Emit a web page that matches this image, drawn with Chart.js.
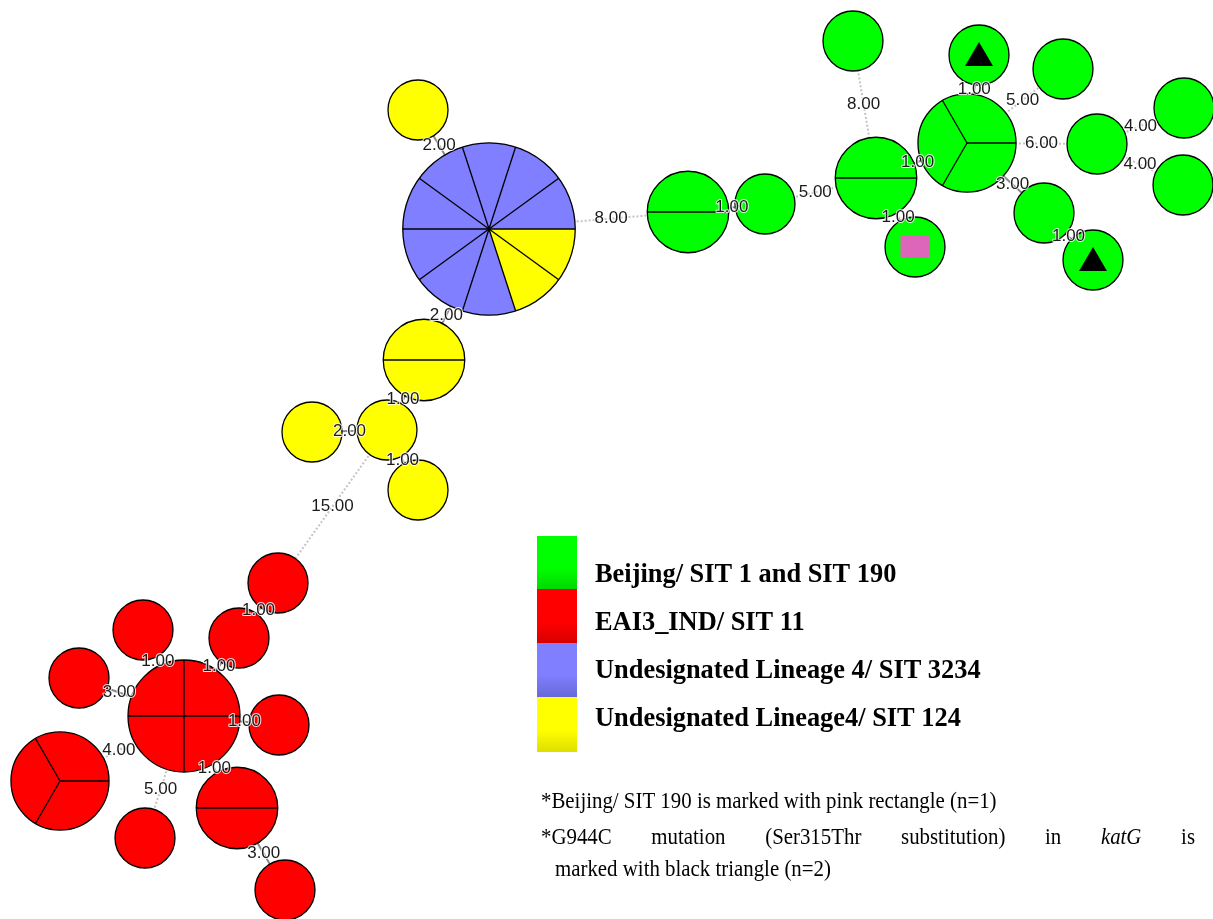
<!DOCTYPE html>
<html>
<head>
<meta charset="utf-8">
<script src="https://cdn.jsdelivr.net/npm/chart.js@4"></script>
<style>
  html, body { margin: 0; padding: 0; background: #fff; }
  #wrap { width: 1213px; height: 919px; }
</style>
</head>
<body>
<div id="wrap"><canvas id="mst" width="1213" height="919"></canvas></div>
<script>
// Lineages (legend order) and colours
const lineages = [
  "Beijing/ SIT 1 and SIT 190",
  "EAI3_IND/ SIT 11",
  "Undesignated Lineage 4/ SIT 3234",
  "Undesignated Lineage4/ SIT 124"
];
const lineageColors = ["#00ff00", "#ff0000", "#7f7fff", "#ffff00"];

// Nodes: layout coordinates and isolate counts per lineage
const nodeX = [489, 418, 424, 387, 312, 418,
  688, 765, 876, 967, 853, 979, 1063, 1097, 1184, 1183, 1044, 1093, 915,
  278, 239, 184, 143, 79, 279, 60, 237, 145, 285];
const nodeY = [229, 110, 360, 430, 432, 490,
  212, 204, 178, 143, 41, 55, 69, 144, 108, 185, 213, 260, 247,
  583, 638, 716, 630, 678, 725, 781, 808, 838, 890];
const nodeCounts = [
  [0, 0, 8, 2], [0, 0, 0, 1], [0, 0, 0, 2], [0, 0, 0, 1], [0, 0, 0, 1], [0, 0, 0, 1],
  [2, 0, 0, 0], [1, 0, 0, 0], [2, 0, 0, 0], [3, 0, 0, 0], [1, 0, 0, 0], [1, 0, 0, 0],
  [1, 0, 0, 0], [1, 0, 0, 0], [1, 0, 0, 0], [1, 0, 0, 0], [1, 0, 0, 0], [1, 0, 0, 0], [1, 0, 0, 0],
  [0, 1, 0, 0], [0, 1, 0, 0], [0, 4, 0, 0], [0, 1, 0, 0], [0, 1, 0, 0], [0, 1, 0, 0],
  [0, 3, 0, 0], [0, 2, 0, 0], [0, 1, 0, 0], [0, 1, 0, 0]
];
// "" none, "tri" katG G944C, "rect" SIT 190
const nodeMarks = ["", "", "", "", "", "",
  "", "", "", "", "", "tri", "", "", "", "", "", "tri", "rect",
  "", "", "", "", "", "", "", "", "", ""];

// Edges of the minimum spanning tree
const edgeFrom = [0, 6, 7, 8, 8, 8, 9, 9, 9, 13, 13, 9, 16, 0, 0, 2, 3, 3, 3, 19, 20, 22, 23, 24, 25, 27, 26, 26];
const edgeTo = [6, 7, 8, 10, 9, 18, 11, 12, 13, 14, 15, 16, 17, 1, 2, 3, 4, 5, 19, 20, 21, 21, 21, 21, 21, 21, 21, 28];
const edgeWeight = [8, 1, 5, 8, 1, 1, 1, 5, 6, 4, 4, 3, 1, 2, 2, 1, 2, 1, 15, 1, 1, 1, 3, 1, 4, 5, 1, 3];

const note1 = "*Beijing/ SIT 190 is marked with pink rectangle (n=1)";
const note2 = ["*G944C", "mutation", "(Ser315Thr", "substitution)", "in", "katG", "is"];
const note3 = "marked with black triangle (n=2)";

function nodeTotal(i) { return nodeCounts[i].reduce((a, b) => a + b, 0); }
function nodeRadius(i) { return 4 + 26 * Math.sqrt(nodeTotal(i)); }

const sliceOrder = [3, 2, 1, 0];
const SERIF = "'Liberation Serif', 'Times New Roman', serif";
const SQUEEZE = 0.907;

const netPlugin = {
  id: "mstNetwork",
  beforeDatasetsDraw(chart) {
    const ctx = chart.ctx;
    const pts = chart.getDatasetMeta(0).data;
    edgeFrom.forEach((a, i) => {
      const b = edgeTo[i];
      ctx.save();
      if (edgeWeight[i] > 3) {
        ctx.setLineDash([2, 2]);
        ctx.strokeStyle = "#c4c4c4";
      } else {
        ctx.strokeStyle = "#8a8a8a";
      }
      ctx.lineWidth = 2;
      ctx.beginPath();
      ctx.moveTo(pts[a].x, pts[a].y);
      ctx.lineTo(pts[b].x, pts[b].y);
      ctx.stroke();
      ctx.restore();
    });
  },
  afterDatasetsDraw(chart) {
    const ctx = chart.ctx;
    const pts = chart.getDatasetMeta(0).data;
    // pie nodes
    pts.forEach((p, i) => {
      const r = nodeRadius(i);
      const total = nodeTotal(i);
      const step = Math.PI * 2 / total;
      let ang = 0;
      ctx.save();
      sliceOrder.forEach(li => {
        const n = nodeCounts[i][li];
        if (!n) return;
        ctx.fillStyle = lineageColors[li];
        ctx.beginPath();
        ctx.moveTo(p.x, p.y);
        ctx.arc(p.x, p.y, r, ang, ang + step * n);
        ctx.closePath();
        ctx.fill();
        ang += step * n;
      });
      ctx.strokeStyle = "#000";
      ctx.lineWidth = 1.3;
      if (total > 1) {
        for (let k = 0; k < total; k++) {
          ctx.beginPath();
          ctx.moveTo(p.x, p.y);
          ctx.lineTo(p.x + r * Math.cos(step * k), p.y + r * Math.sin(step * k));
          ctx.stroke();
        }
      }
      ctx.beginPath();
      ctx.arc(p.x, p.y, r, 0, Math.PI * 2);
      ctx.stroke();
      if (nodeMarks[i] === "tri") {
        ctx.fillStyle = "#000";
        ctx.beginPath();
        ctx.moveTo(p.x, p.y - 13);
        ctx.lineTo(p.x + 14, p.y + 11);
        ctx.lineTo(p.x - 14, p.y + 11);
        ctx.closePath();
        ctx.fill();
      } else if (nodeMarks[i] === "rect") {
        ctx.fillStyle = "#dd66bb";
        ctx.fillRect(p.x - 14.5, p.y - 11, 29, 22);
      }
      ctx.restore();
    });
    // edge labels at the middle of the gap between the two circles
    ctx.save();
    ctx.font = "17px 'Liberation Sans', Arial, sans-serif";
    ctx.textAlign = "center";
    ctx.textBaseline = "middle";
    ctx.lineJoin = "round";
    edgeFrom.forEach((a, i) => {
      const b = edgeTo[i];
      const dx = pts[b].x - pts[a].x, dy = pts[b].y - pts[a].y;
      const d = Math.hypot(dx, dy);
      const ra = nodeRadius(a), rb = nodeRadius(b);
      const t = (ra + (d - ra - rb) / 2) / d;
      const lx = pts[a].x + dx * t, ly = pts[a].y + dy * t;
      const txt = edgeWeight[i].toFixed(2);
      ctx.strokeStyle = "rgba(255,255,255,0.85)";
      ctx.lineWidth = 2;
      ctx.strokeText(txt, lx, ly);
      ctx.fillStyle = "#1a1a1a";
      ctx.fillText(txt, lx, ly);
    });
    ctx.restore();
  },
  afterDraw(chart) {
    const ctx = chart.ctx;
    ctx.save();
    // legend
    const swTop = [536, 589, 643, 697], swBot = [589, 643, 697, 752];
    const shade = ["#00d800", "#d80000", "#6868d8", "#dede00"];
    ctx.textBaseline = "alphabetic";
    ctx.textAlign = "left";
    lineages.forEach((name, i) => {
      const g = ctx.createLinearGradient(0, swTop[i], 0, swBot[i]);
      g.addColorStop(0, lineageColors[i]);
      g.addColorStop(0.6, lineageColors[i]);
      g.addColorStop(1, shade[i]);
      ctx.fillStyle = g;
      ctx.fillRect(537, swTop[i], 40, swBot[i] - swTop[i]);
      ctx.fillStyle = "#000";
      ctx.font = "bold 26.4px " + SERIF;
      ctx.fillText(name, 595, 582 + i * 48);
    });
    // notes, in a slightly condensed serif
    const plain = "23px " + SERIF, ital = "italic 23px " + SERIF;
    ctx.save();
    ctx.scale(SQUEEZE, 1);
    ctx.font = plain;
    ctx.fillText(note1, 541 / SQUEEZE, 808);
    const fonts = note2.map(w => w === "katG" ? ital : plain);
    const widths = note2.map((w, k) => { ctx.font = fonts[k]; return ctx.measureText(w).width; });
    const x0 = 541 / SQUEEZE, x1 = 1195 / SQUEEZE;
    const gap = (x1 - x0 - widths.reduce((a, b) => a + b, 0)) / (note2.length - 1);
    let x = x0;
    note2.forEach((w, k) => {
      ctx.font = fonts[k];
      ctx.fillText(w, x, 844);
      x += widths[k] + gap;
    });
    ctx.font = plain;
    ctx.fillText(note3, 555 / SQUEEZE, 876);
    ctx.restore();
    ctx.restore();
  }
};

new Chart(document.getElementById("mst"), {
  type: "scatter",
  data: {
    datasets: [{
      data: nodeX.map((x, i) => ({ x: x, y: nodeY[i] })),
      pointRadius: 0,
      pointHoverRadius: 0
    }]
  },
  options: {
    responsive: false,
    animation: false,
    events: [],
    layout: { padding: 0 },
    plugins: { legend: { display: false }, tooltip: { enabled: false } },
    scales: {
      x: { type: "linear", min: 0, max: 1213, display: false },
      y: { type: "linear", min: 0, max: 919, reverse: true, display: false }
    }
  },
  plugins: [netPlugin]
});
</script>
</body>
</html>
